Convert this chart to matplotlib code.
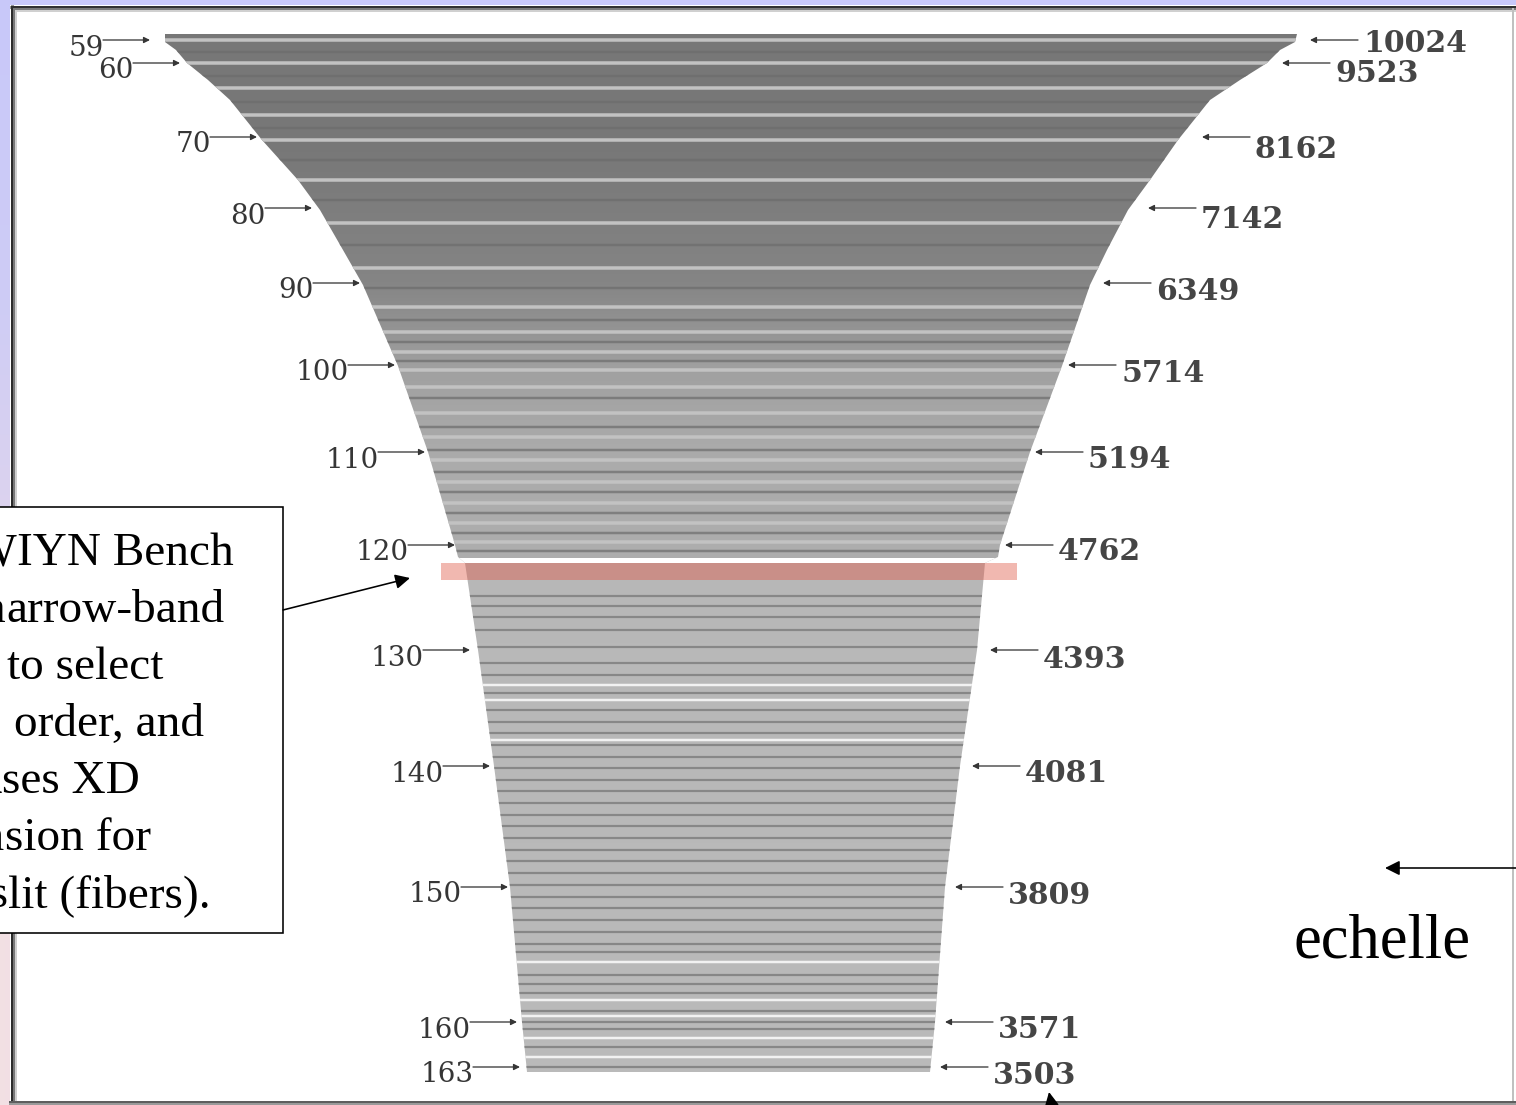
import numpy as np
import matplotlib
matplotlib.use("Agg")
import matplotlib.pyplot as plt
from matplotlib.patches import Polygon, Rectangle

# ---------------- data (detector coordinates) ----------------
orders = [59, 60, 70, 80, 90, 100, 110, 120, 130, 140, 150, 160, 163]
order_arrow_y = [40, 63, 137, 208, 283, 365, 452, 545, 650, 766, 887, 1022, 1067]
order_tip_x = [150, 180, 257, 312, 360, 395, 425, 455, 470, 490, 508, 517, 520]

wavelengths = [10024, 9523, 8162, 7142, 6349, 5714, 5194, 4762, 4393, 4081, 3809, 3571, 3503]
wave_arrow_y = [40, 63, 137, 208, 283, 365, 452, 545, 650, 766, 887, 1022, 1067]
wave_tip_x = [1310, 1282, 1202, 1148, 1103, 1068, 1035, 1005, 990, 972, 955, 945, 940]
wave_text_dy = [4, 11, 12, 11, 9, 9, 8, 6, 10, 7, 8, 8, 9]

# envelope of the order fan
edge_y = [34, 42, 50, 63, 80, 100, 140, 180, 210, 250, 285, 366, 452, 545, 557,
          563, 650, 766, 887, 1022, 1072]
edge_left = [165, 165, 176, 187, 208, 230, 262, 298, 320, 343, 363, 398, 428, 455, 458,
             465, 478, 494, 510, 522, 527]
edge_right = [1297, 1295, 1280, 1267, 1240, 1210, 1178, 1150, 1128, 1107, 1090, 1062, 1030,
              1000, 998, 985, 977, 960, 945, 935, 930]

# brightness profile of the order stripes
gray_y = [34, 150, 280, 370, 450, 557, 563, 1072]
gray_v = [0.47, 0.47, 0.52, 0.63, 0.67, 0.68, 0.72, 0.73]

# light separators / dark lines between orders (upper block)
upper_light_y = [40, 63, 88, 115, 140, 180, 223, 268, 307, 332, 352, 370, 387, 413,
                 437, 460, 482, 503, 523, 542]
upper_dark_y = [52, 76, 102, 128, 160, 200, 245, 288, 320, 342, 361, 398, 427, 450,
                472, 492, 513, 533, 551]
# lower block
lower_dark_y = [596, 606, 617, 630, 647, 663, 675, 693, 710, 722, 733, 745, 757, 768,
                780, 791, 803, 815, 826, 838, 850, 861, 873, 885, 897, 908, 920, 932,
                944, 952, 975, 984, 993, 1011, 1022, 1029, 1047, 1067]
lower_white_y = [685, 700, 740, 962, 1000, 1016, 1038, 1057]
order_gap_y = 560

highlight_y = (563, 580)
highlight_x = (441, 1017)

box_lines = [("W", "IYN Bench", 17), ("n", "arrow-band", 6), ("filters ", "to select", 7),
             ("single   ", "order, and", 14), ("u", "ses XD", 2), ("dimen", "sion for", 5),
             ("the s", "lit (fibers).", 8)]

# ---------------- figure ----------------
W, H = 1516, 1105
fig = plt.figure(figsize=(W / 100, H / 100), dpi=100)
ax = fig.add_axes([0, 0, 1, 1])
ax.set_xlim(0, W)
ax.set_ylim(H, 0)
ax.set_axis_off()

px = 0.72  # points per pixel

# slide background gradient
stops_y = [0, 300, 600, 900, H]
stops_c = np.array([[200, 200, 250], [206, 204, 245], [226, 214, 236],
                     [242, 224, 228], [242, 224, 228]]) / 255.0
yy = np.arange(H)
bgimg = np.stack([np.interp(yy, stops_y, stops_c[:, k]) for k in range(3)], axis=-1)
bgimg = bgimg[:, None, :]
ax.imshow(bgimg, extent=(0, W, H, 0), aspect="auto", zorder=0, interpolation="bilinear")

# white panel with frame
ax.add_patch(Rectangle((10, 5), W, H, facecolor="white", edgecolor="none", zorder=1))
ax.plot([11.5, 11.5], [5, H], color="#2c2c2c", lw=3 * px, zorder=2, solid_capstyle="butt")
ax.plot([14, 14], [8, H], color="#777777", lw=2 * px, zorder=2, solid_capstyle="butt")
ax.plot([16, 16], [10, H], color="#cfcfcf", lw=2 * px, zorder=2, solid_capstyle="butt")
ax.plot([10, W], [6.5, 6.5], color="#303030", lw=3 * px, zorder=2, solid_capstyle="butt")
ax.plot([13, W], [9, 9], color="#7a7a7a", lw=2 * px, zorder=2, solid_capstyle="butt")
ax.plot([15, W], [11, 11], color="#d0d0d0", lw=2 * px, zorder=2, solid_capstyle="butt")
ax.plot([1513, 1513], [9, H], color="#c0c0c0", lw=2 * px, zorder=2)
ax.plot([10, W], [1101.5, 1101.5], color="#5e5e5e", lw=3 * px, zorder=2)
ax.plot([10, W], [1104, 1104], color="#9a9a9a", lw=2 * px, zorder=2)

# order fan envelope
poly_xy = np.column_stack([edge_left + edge_right[::-1], edge_y + edge_y[::-1]])
env = Polygon(poly_xy, closed=True, facecolor="none", edgecolor="none", zorder=3)
ax.add_patch(env)

gcol = np.interp(yy, gray_y, gray_v)
gimg = np.repeat(gcol[:, None], 3, axis=1)[:, None, :]
im = ax.imshow(gimg, extent=(0, W, H, 0), aspect="auto", zorder=3, interpolation="bilinear")
im.set_clip_path(env)

lc = ax.hlines(upper_light_y, 0, W, colors="#c2c2c2", lw=3.5 * px, zorder=4)
lc.set_clip_path(env)
lc = ax.hlines(upper_dark_y, 0, W, colors="#6c6c6c", lw=2.5 * px, zorder=4, alpha=0.7)
lc.set_clip_path(env)
lc = ax.hlines(lower_dark_y, 0, W, colors="#878787", lw=2.2 * px, zorder=4)
lc.set_clip_path(env)
lc = ax.hlines(lower_white_y, 0, W, colors="#f2f2f2", lw=2.5 * px, zorder=4)
lc.set_clip_path(env)
lc = ax.hlines([order_gap_y], 0, W, colors="white", lw=5 * px, zorder=4)
lc.set_clip_path(env)

# highlighted order
ax.add_patch(Rectangle((highlight_x[0], highlight_y[0]), highlight_x[1] - highlight_x[0],
                       highlight_y[1] - highlight_y[0], facecolor=(225 / 255, 94 / 255, 76 / 255),
                       alpha=0.44, edgecolor="none", zorder=5))

# order labels (left) and wavelength labels (right)
lab_col = "#363636"
arr = dict(arrowstyle="-|>", color=lab_col, lw=1.3 * px, mutation_scale=9,
           shrinkA=0, shrinkB=0)
for m, y, tx in zip(orders, order_arrow_y, order_tip_x):
    ax.annotate("", xy=(tx, y), xytext=(tx - 47, y), arrowprops=arr, zorder=6)
    ax.text(tx - 46, y + 8, str(m), ha="right", va="center", fontsize=20,
            family="DejaVu Serif", color=lab_col, zorder=6)
for w, y, tx, dyt in zip(wavelengths, wave_arrow_y, wave_tip_x, wave_text_dy):
    ax.annotate("", xy=(tx, y), xytext=(tx + 48, y), arrowprops=arr, zorder=6)
    ax.text(tx + 53, y + dyt, str(w), ha="left", va="center", fontsize=21.5,
            family="DejaVu Serif", fontweight="bold", color="#454545", zorder=6)

# callout box
ax.add_patch(Rectangle((-20, 507), 303, 426, facecolor="white", edgecolor="black",
                       lw=1.6 * px, zorder=7))
base0, dy = 565, 57
serif = "Liberation Serif"
for i, (pre, suf, x0) in enumerate(box_lines):
    yb = base0 + i * dy
    ax.text(x0, yb, pre, ha="right", va="baseline", fontsize=34, family=serif,
            color="black", zorder=8)
    ax.text(x0, yb, suf, ha="left", va="baseline", fontsize=34, family=serif,
            color="black", zorder=8)
ax.annotate("", xy=(410, 578), xytext=(283, 610),
            arrowprops=dict(arrowstyle="-|>", color="black", lw=1.6 * px,
                            mutation_scale=22, shrinkA=0, shrinkB=0), zorder=8)

# echelle annotation
ax.annotate("", xy=(1385, 868), xytext=(1530, 868),
            arrowprops=dict(arrowstyle="-|>", color="black", lw=1.6 * px,
                            mutation_scale=22, shrinkA=0, shrinkB=0), zorder=8)
ax.text(1382, 957, "echelle", ha="center", va="baseline", fontsize=45, family=serif,
        color="black", zorder=8)
ax.annotate("", xy=(1049, 1092), xytext=(1062, 1160),
            arrowprops=dict(arrowstyle="-|>", color="black", lw=1.6 * px,
                            mutation_scale=22, shrinkA=0, shrinkB=0), zorder=8)

fig.savefig("out.png", dpi=100)
